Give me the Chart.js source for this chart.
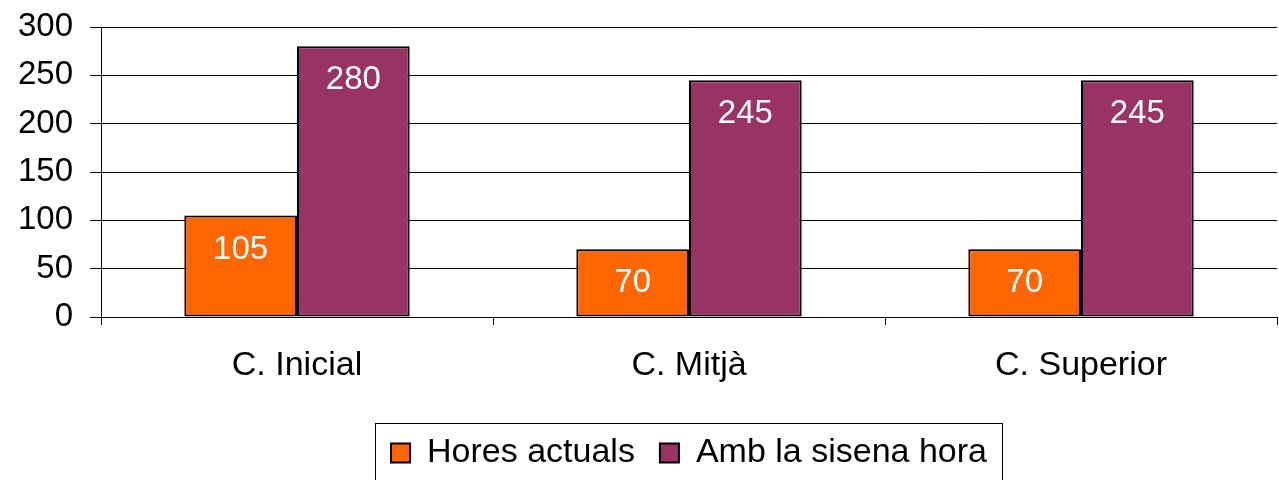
<!DOCTYPE html>
<html><head><meta charset="utf-8">
<script src="https://cdn.jsdelivr.net/npm/chart.js@4/dist/chart.umd.min.js"></script>
<style>html,body{margin:0;padding:0;background:#fff}#wrap{width:1279px;height:480px}</style>
</head><body><div id="wrap"><canvas id="c" width="1279" height="480"></canvas></div>
<script>
const categories = ["C. Inicial", "C. Mitjà", "C. Superior"];
const horesActuals = [105, 70, 70];
const ambSisenaHora = [280, 245, 245];
const yTicks = [0, 50, 100, 150, 200, 250, 300];

const FONT = "'Liberation Sans', Arial, sans-serif";
const FS = 33;
const FS2 = 34;

const valueLabels = {
  id: 'valueLabels',
  afterDatasetsDraw(chart) {
    const ctx = chart.ctx;
    ctx.save();
    ctx.fillStyle = '#fff';
    ctx.font = FS + 'px ' + FONT;
    ctx.textAlign = 'center';
    ctx.textBaseline = 'middle';
    chart.data.datasets.forEach((ds, i) => {
      chart.getDatasetMeta(i).data.forEach((bar, j) => {
        ctx.fillText(String(ds.data[j]), bar.x, bar.y + 34);
      });
    });
    ctx.restore();
  }
};
const legendBorder = {
  id: 'legendBorder',
  afterDraw(chart) {
    const hb = chart.legend.legendHitBoxes;
    if (!hb || !hb.length) return;
    const left = Math.round(hb[0].left) - 16;
    const last = hb[hb.length - 1];
    const right = Math.round(last.left + last.width) + 15;
    const top = 423;
    const ctx = chart.ctx;
    ctx.save();
    ctx.strokeStyle = '#000';
    ctx.lineWidth = 1;
    ctx.strokeRect(left + 0.5, top + 0.5, right - left, 100);
    ctx.restore();
  }
};

new Chart(document.getElementById('c'), {
  type: 'bar',
  data: {
    labels: categories,
    datasets: [
      { label: 'Hores actuals', data: horesActuals, backgroundColor: '#FF6600', borderColor: '#000', borderWidth: 2, borderSkipped: false, categoryPercentage: 0.575, barPercentage: 1.0 },
      { label: 'Amb la sisena hora', data: ambSisenaHora, backgroundColor: '#993366', borderColor: '#000', borderWidth: 2, borderSkipped: false, categoryPercentage: 0.575, barPercentage: 1.0 }
    ]
  },
  options: {
    responsive: false,
    animation: false,
    layout: { padding: { left: 0, right: 2, top: 27, bottom: 0 } },
    plugins: {
      tooltip: { enabled: false },
      legend: {
        position: 'bottom',
        fullSize: false,
        labels: {
          font: { size: FS2, family: FONT },
          color: '#000',
          boxWidth: 19,
          boxHeight: 19,
          padding: 25,
          generateLabels(chart) {
            return chart.data.datasets.map((ds, i) => ({
              text: ds.label, fillStyle: ds.backgroundColor, strokeStyle: '#000', lineWidth: 2, datasetIndex: i, fontColor: '#000'
            }));
          }
        }
      }
    },
    scales: {
      x: {
        grid: { offset: true, drawOnChartArea: false, color: '#000', tickLength: 8, lineWidth: 1 },
        border: { color: '#000', width: 1 },
        ticks: { color: '#000', font: { size: FS2, family: FONT }, padding: 20 },
        afterFit(scale) { scale.height = 94; scale.paddingLeft = 0; scale.paddingRight = 0; }
      },
      y: {
        min: 0, max: 300,
        afterBuildTicks(scale) { scale.ticks = yTicks.map(v => ({ value: v })); },
        afterFit(scale) { scale.width = 101; scale.paddingTop = 0; scale.paddingBottom = 0; },
        grid: { color: '#000', tickLength: 11, lineWidth: 1 },
        border: { color: '#000', width: 1 },
        ticks: { color: '#000', font: { size: FS, family: FONT }, padding: 17 }
      }
    }
  },
  plugins: [valueLabels, legendBorder]
});
</script></body></html>
